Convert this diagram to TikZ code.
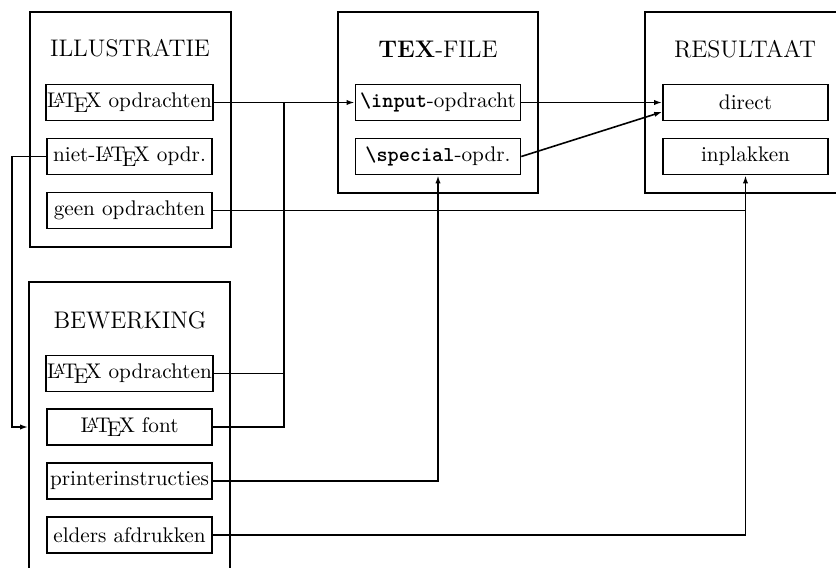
\documentclass[tikz,border=0pt]{standalone}
\usetikzlibrary{arrows.meta,calc}
\begin{document}
\begin{tikzpicture}[x=0.5pt,y=-0.5pt,
  ln/.style={line width=0.8pt},
  arr/.style={-{Latex[length=4pt,width=2.6pt]}},
  inbox/.style={draw,line width=0.8pt,minimum width=82.5pt,minimum height=18pt,inner sep=0.5pt,font=\fontsize{10.6}{12}\selectfont},
  outbox/.style={draw,line width=0.8pt,inner sep=0pt},
  ttl/.style={inner sep=0pt,font=\fontsize{12}{14}\selectfont}]
\path[use as bounding box] (0,0) rectangle (836,568);
\clip (0,0) rectangle (836,568);
% outer boxes
\node[outbox,minimum width=100.5pt,minimum height=117.5pt] (ill) at (130.5,129.5) {};
\node[outbox,minimum width=100pt,minimum height=90.5pt] (tex) at (438,102.5) {};
\node[outbox,minimum width=100pt,minimum height=90.5pt] (res) at (745,102.5) {};
\node[outbox,minimum width=100.5pt,minimum height=145pt] (bew) at (129.5,427) {};
% titles
\node[ttl] (tI) at (130,48) {ILLUSTRATIE};
\node[ttl] (tT) at (438,49) {\textbf{TEX}-FILE};
\node[ttl] (tR) at (745,49) {RESULTAAT};
\node[ttl] (tB) at (130,320) {BEWERKING};
% inner boxes
\node[inbox] (il1) at (129.5,102.5) {\LaTeX\ opdrachten};
\node[inbox] (il2) at (129.5,156.5) {niet-\LaTeX\ opdr.};
\node[inbox] (il3) at (129.5,210.5) {geen opdrachten};
\node[inbox] (in) at (438,102.5) {\texttt{\bfseries\textbackslash input}-opdracht};
\node[inbox] (sp) at (438,156.5) {\texttt{\bfseries\textbackslash special}-opdr.};
\node[inbox] (di) at (745.5,102.5) {direct};
\node[inbox] (ip) at (745.5,156.5) {inplakken};
\node[inbox] (bw1) at (129.5,373.5) {\LaTeX\ opdrachten};
\node[inbox] (bw2) at (129.5,427) {\LaTeX\ font};
\node[inbox] (bw3) at (129.5,481) {printerinstructies};
\node[inbox] (bw4) at (129.5,535) {elders afdrukken};
% connectors
\coordinate (j1) at (284,102.5);
\coordinate (c1) at (12,156.5);
\draw[ln,arr] (il1.east) -- (in.west);
\draw[ln] (bw1.east) -- (bw1.east -| j1);
\draw[ln] (bw2.east) -| (j1);
\draw[ln,arr] (il2.west) -- (c1) |- (bew.west |- bw2.west);
\draw[ln] (il3.east) -- (il3.east -| ip.south);
\draw[ln,arr] (bw4.east) -| (ip.south);
\draw[ln,arr] (bw3.east) -| (sp.south);
\draw[ln,arr] (in.east) -- (di.west);
\draw[ln,arr] (sp.east) -- ($(di.west)!0.5!(di.south west)$);
\end{tikzpicture}
\end{document}
